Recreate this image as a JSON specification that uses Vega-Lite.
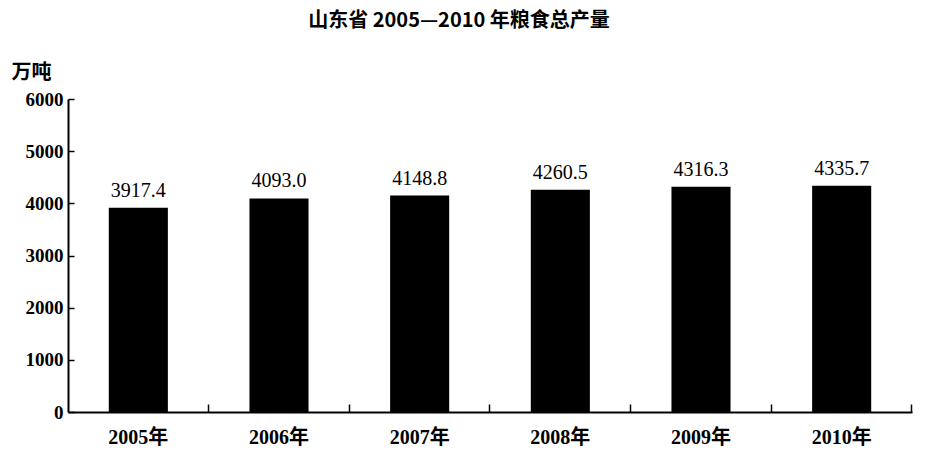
{
  "$schema": "https://vega.github.io/schema/vega-lite/v6.json",
  "width": 844,
  "height": 313,
  "autosize": {"type": "none"},
  "padding": {"left": 68, "top": 99, "right": 16, "bottom": 39},
  "background": "white",
  "view": {"stroke": null},
  "title": {
    "text": "山东省 2005—2010 年粮食总产量",
    "font": "Noto Sans CJK SC",
    "fontSize": 20,
    "fontWeight": "bold",
    "color": "black",
    "anchor": "middle",
    "frame": "group",
    "dx": -31,
    "offset": 31
  },
  "data": {
    "values": [
      {"year": "2005年", "output": 3917.4},
      {"year": "2006年", "output": 4093.0},
      {"year": "2007年", "output": 4148.8},
      {"year": "2008年", "output": 4260.5},
      {"year": "2009年", "output": 4316.3},
      {"year": "2010年", "output": 4335.7}
    ]
  },
  "resolve": {"axis": {"x": "independent"}},
  "layer": [
    {
      "mark": {"type": "bar", "color": "black"},
      "encoding": {
        "x": {
          "field": "year",
          "type": "ordinal",
          "sort": null,
          "scale": {"paddingInner": 0.58, "paddingOuter": 0.29},
          "axis": {
            "orient": "bottom",
            "title": null,
            "labelAngle": 0,
            "labelFont": "Liberation Serif, Noto Sans CJK SC",
            "labelFontSize": 20,
            "labelFontWeight": "bold",
            "labelColor": "black",
            "labelPadding": 15,
            "labelBaseline": "top",
            "domainColor": "black",
            "domainWidth": 2,
            "ticks": false
          }
        },
        "y": {
          "field": "output",
          "type": "quantitative",
          "scale": {"domain": [0, 6000], "nice": false},
          "axis": {
            "values": [0, 1000, 2000, 3000, 4000, 5000, 6000],
            "grid": false,
            "title": "万吨",
            "titleAngle": 0,
            "titleX": -57,
            "titleY": -27,
            "titleAlign": "left",
            "titleBaseline": "middle",
            "titleFont": "Noto Sans CJK SC",
            "titleFontSize": 20,
            "titleFontWeight": "bold",
            "titleColor": "black",
            "labelFont": "Liberation Serif",
            "labelFontSize": 19,
            "labelFontWeight": "bold",
            "labelColor": "black",
            "labelPadding": 11,
            "format": "d",
            "domainColor": "black",
            "domainWidth": 2,
            "tickColor": "black",
            "tickWidth": 1.5,
            "tickSize": -6
          }
        }
      }
    },
    {
      "mark": {
        "type": "text",
        "baseline": "bottom",
        "dy": -7,
        "font": "Liberation Serif",
        "fontSize": 20,
        "color": "black"
      },
      "encoding": {
        "x": {
          "field": "year",
          "type": "ordinal",
          "sort": null,
          "axis": {
            "orient": "bottom",
            "title": null,
            "labels": false,
            "domain": false,
            "tickColor": "black",
            "tickWidth": 1.5,
            "tickSize": -8,
            "bandPosition": 1.69
          }
        },
        "y": {"field": "output", "type": "quantitative"},
        "text": {"field": "output", "type": "quantitative", "format": ".1f"}
      }
    }
  ]
}
